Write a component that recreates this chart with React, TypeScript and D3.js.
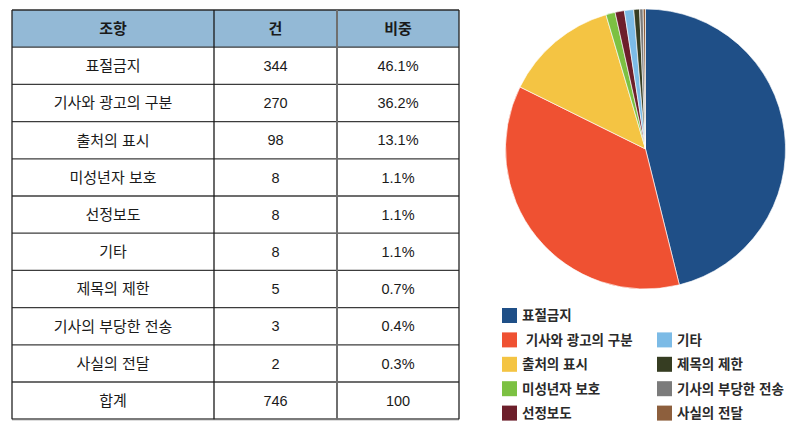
import React from "react";
import * as d3 from "d3";

const categories = ["표절금지", "기사와 광고의 구분", "출처의 표시", "미성년자 보호", "선정보도", "기타", "제목의 제한", "기사의 부당한 전송", "사실의 전달"];
const counts = [344, 270, 98, 8, 8, 8, 5, 3, 2];
const shares = ["46.1%", "36.2%", "13.1%", "1.1%", "1.1%", "1.1%", "0.7%", "0.4%", "0.3%"];
const totalLabel = ["합계", "746", "100"];
const headers = ["조항", "건", "비중"];
const colors = ["#1f4f87", "#ef5132", "#f4c443", "#7cc142", "#6d1f2b", "#7cbbe6", "#363d22", "#7b7b7b", "#8d5f3d"];
// legend layout: [column, row] per category
const legendPos: [number, number][] = [[0, 0], [0, 1], [0, 2], [0, 3], [0, 4], [1, 1], [1, 2], [1, 3], [1, 4]];
const legendLabels = ["표절금지", " 기사와 광고의 구분", "출처의 표시", "미성년자 보호", "선정보도", "기타", "제목의 제한", "기사의 부당한 전송", "사실의 전달"];

const FONT = "'Liberation Sans', 'Noto Sans CJK KR', sans-serif";

export default function App() {
  const W = 810, H = 432;
  // table
  const tLeft = 12, tRight = 459, tTop = 10, rowH = 37.2;
  const colX = [tLeft, 214, 337, tRight];
  const rows: string[][] = categories.map((c, i) => [c, String(counts[i]), shares[i]]);
  rows.push(totalLabel);
  const nRows = rows.length + 1;
  const yRow = d3.scaleLinear().domain([0, nRows]).range([tTop, tTop + rowH * nRows]);

  // pie
  const cx = 645.5, cy = 149, r = 140;
  const pie = d3.pie<number>().sort(null).value((d) => d).startAngle(0).endAngle(2 * Math.PI);
  const arcs = pie(counts);
  const arcGen = d3.arc<d3.PieArcDatum<number>>().innerRadius(0).outerRadius(r);

  const legX = [502, 657], legY0 = 308, legDy = 24.4, sq = 15;

  return (
    <svg width={W} height={H} style={{ position: "absolute", left: 0, top: 0, background: "#fff" }}>
      {/* header */}
      <rect x={tLeft} y={yRow(0)} width={tRight - tLeft} height={rowH} fill="#93b9d6" />
      {headers.map((h, j) => (
        <text key={h} x={(colX[j] + colX[j + 1]) / 2} y={yRow(0.5)} dy="0.36em" textAnchor="middle"
          fontFamily={FONT} fontWeight="bold" fontSize={15} fill="#1a1a1a">{h}</text>
      ))}
      {rows.map((row, i) =>
        row.map((cell, j) => (
          <text key={i + "-" + j} x={(colX[j] + colX[j + 1]) / 2} y={yRow(i + 1.5)} dy="0.36em" textAnchor="middle"
            fontFamily={FONT} fontSize={j === 0 ? 15 : 14.5} fill="#1a1a1a">{cell}</text>
        ))
      )}
      {/* horizontal lines */}
      {d3.range(0, nRows).map((i) => (
        <line key={"h" + i} x1={tLeft} x2={tRight} y1={yRow(i)} y2={yRow(i)} stroke={i === 0 ? "#2a2a2a" : "#3c3c3c"} strokeWidth={1.3} />
      ))}
      <line x1={tLeft} x2={tRight} y1={yRow(nRows)} y2={yRow(nRows)} stroke="#7a7a7a" strokeWidth={2.2} />
      {/* vertical lines */}
      <line x1={colX[0]} x2={colX[0]} y1={yRow(0)} y2={yRow(nRows)} stroke="#222" strokeWidth={1.3} />
      <line x1={colX[1]} x2={colX[1]} y1={yRow(0)} y2={yRow(nRows)} stroke="#1a1a1a" strokeWidth={1.3} />
      <line x1={colX[2]} x2={colX[2]} y1={yRow(0)} y2={yRow(nRows)} stroke="#6f6f6f" strokeWidth={2} />
      <line x1={colX[3]} x2={colX[3]} y1={yRow(0)} y2={yRow(nRows)} stroke="#222" strokeWidth={1.3} />

      {/* pie */}
      <g transform={`translate(${cx},${cy})`}>
        {arcs.map((a, i) => (
          <path key={i} d={arcGen(a) || ""} fill={colors[i]} stroke="#ffffff" strokeWidth={0.8} strokeOpacity={0.8} />
        ))}
      </g>

      {/* legend */}
      {legendLabels.map((l, i) => {
        const [c, rr] = legendPos[i];
        const y = legY0 + rr * legDy;
        return (
          <g key={"l" + i}>
            <rect x={legX[c]} y={y} width={sq} height={sq} fill={colors[i]} />
            <text x={legX[c] + sq + 5} y={y + sq / 2} dy="0.36em" fontFamily={FONT} fontWeight="bold" fontSize={13.5}
              fill="#2a2a2a" style={{ whiteSpace: "pre" }}>{l}</text>
          </g>
        );
      })}
    </svg>
  );
}
